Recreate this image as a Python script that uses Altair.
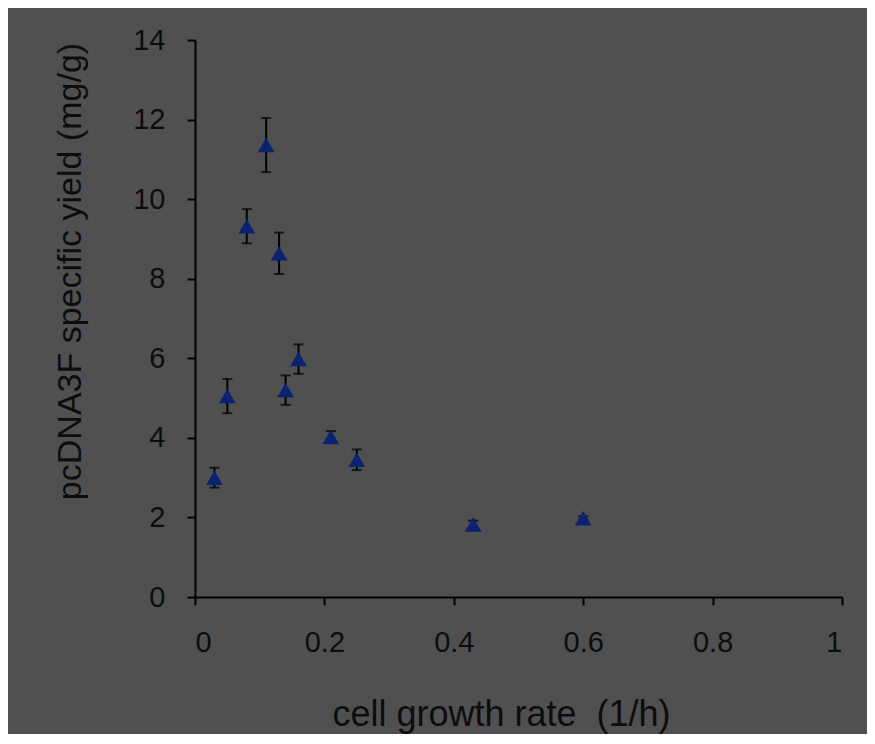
import altair as alt
import pandas as pd

growth_rate = [0.03, 0.05, 0.08, 0.11, 0.13, 0.14, 0.16, 0.21, 0.25, 0.43, 0.60]
specific_yield = [3.0, 5.05, 9.32, 11.36, 8.64, 5.2, 5.98, 4.02, 3.45, 1.82, 1.98]
yield_error = [0.25, 0.43, 0.43, 0.68, 0.52, 0.37, 0.37, 0.15, 0.26, 0.10, 0.05]
x_ticks = [0, 0.2, 0.4, 0.6, 0.8, 1]
y_ticks = [0, 2, 4, 6, 8, 10, 12, 14]

df = pd.DataFrame({"x": growth_rate, "y": specific_yield, "e": yield_error})
df["lo"] = df["y"] - df["e"]
df["hi"] = df["y"] + df["e"]

FONT = "Liberation Sans"
TXT = "#0d0d0d"

xscale = alt.Scale(domain=[0, 1], nice=False, zero=False)
yscale = alt.Scale(domain=[0, 14], nice=False, zero=False)

xaxis = alt.Axis(
    values=x_ticks, format="~g", grid=False,
    domainColor="black", domainWidth=2, tickColor="black", tickWidth=2, tickSize=8,
    labelFont=FONT, labelFontSize=29, labelColor=TXT, labelPadding=23,
    title="cell growth rate \u00a0(1/h)", titleFont=FONT, titleFontSize=36, titleFontWeight="normal",
    titleColor=TXT, titleX=306, titleY=128, titleBaseline="alphabetic", titleAlign="center",
)
yaxis = alt.Axis(
    values=y_ticks, grid=False,
    domainColor="black", domainWidth=2, tickColor="black", tickWidth=2, tickSize=8,
    labelFont=FONT, labelFontSize=29, labelColor=TXT, labelPadding=22,
    title="pcDNA3F specific yield (mg/g)", titleFont=FONT, titleFontSize=34, titleFontWeight="normal",
    titleColor=TXT, titleAngle=270, titleX=-115, titleY=231, titleBaseline="alphabetic", titleAlign="center",
)

base = alt.Chart(df)

bars = base.mark_rule(color="black", strokeWidth=2).encode(
    x=alt.X("x:Q", scale=xscale, axis=xaxis),
    y=alt.Y("lo:Q", scale=yscale, axis=yaxis),
    y2="hi:Q",
)
cap_lo = base.mark_tick(color="black", orient="horizontal", size=10, thickness=2).encode(
    x=alt.X("x:Q", scale=xscale), y=alt.Y("lo:Q", scale=yscale)
)
cap_hi = base.mark_tick(color="black", orient="horizontal", size=10, thickness=2).encode(
    x=alt.X("x:Q", scale=xscale), y=alt.Y("hi:Q", scale=yscale)
)
points = base.mark_point(shape="triangle-up", filled=True, size=280, color="#0a2270", opacity=1).encode(
    x=alt.X("x:Q", scale=xscale), y=alt.Y("y:Q", scale=yscale)
)

chart = alt.layer(bars, cap_lo, cap_hi, points).properties(
    width=647, height=557,
    background="#505050",
    padding={"left": 187, "top": 32, "right": 25, "bottom": 137},
    autosize=alt.AutoSizeParams(type="none"),
).configure_view(stroke=None)

chart.save("out.html", embed_options={"renderer": "svg", "actions": False})
